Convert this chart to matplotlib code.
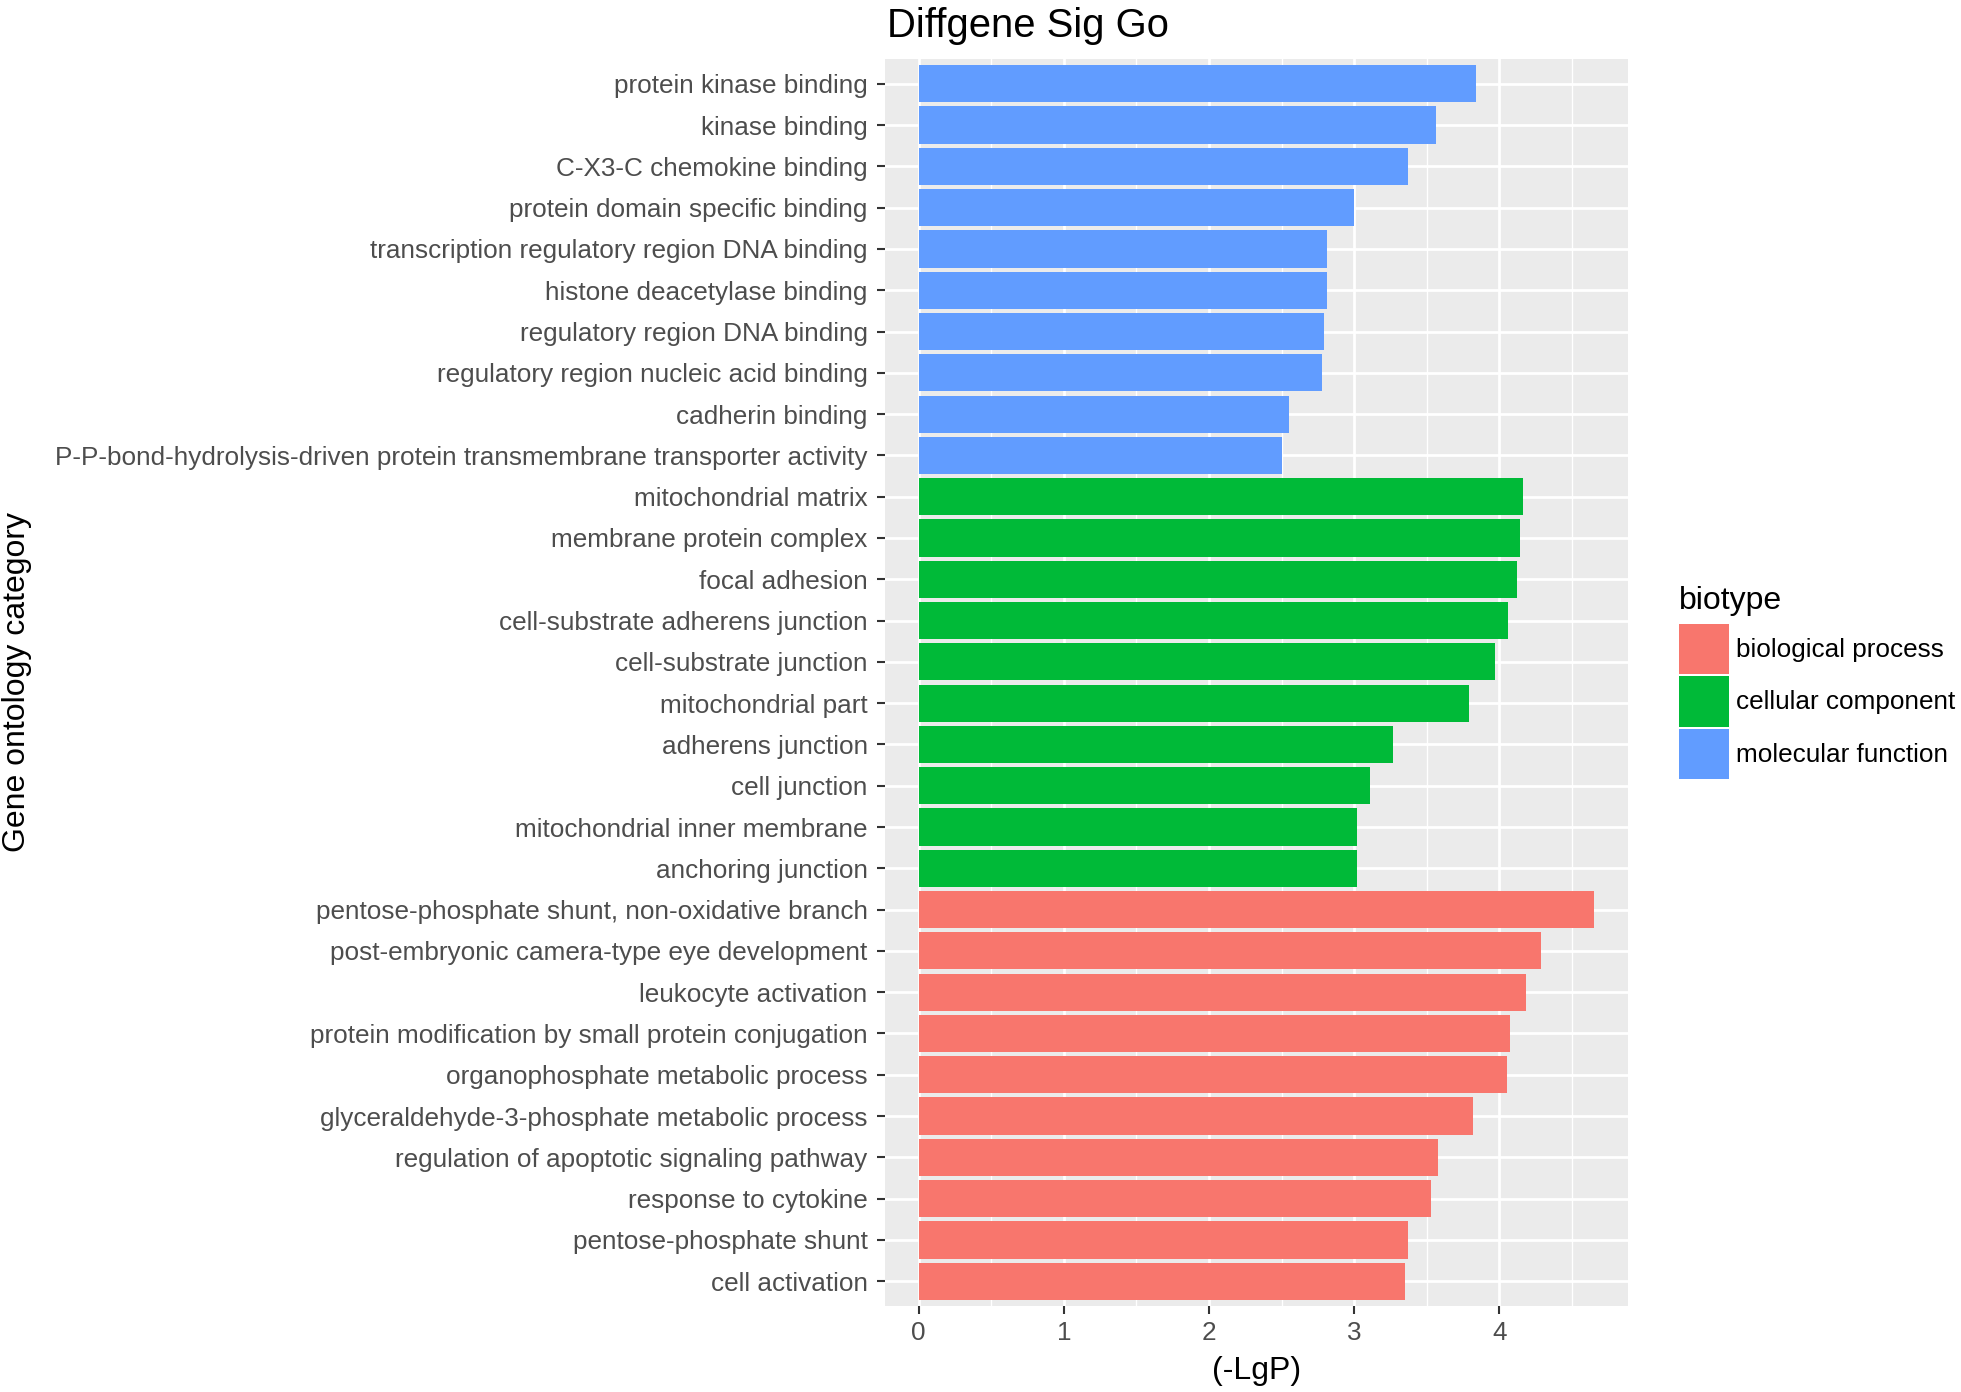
import matplotlib
matplotlib.use("Agg")
import matplotlib.pyplot as plt
from matplotlib.patches import Patch
from matplotlib.ticker import MultipleLocator

plt.rcParams['font.family'] = ['Liberation Sans', 'DejaVu Sans']

# ---- data (top to bottom as displayed) ----
mf_terms = ["protein kinase binding", "kinase binding", "C-X3-C chemokine binding",
            "protein domain specific binding", "transcription regulatory region DNA binding",
            "histone deacetylase binding", "regulatory region DNA binding",
            "regulatory region nucleic acid binding", "cadherin binding",
            "P-P-bond-hydrolysis-driven protein transmembrane transporter activity"]
mf_values = [3.84, 3.56, 3.37, 3.00, 2.81, 2.81, 2.79, 2.78, 2.55, 2.50]

cc_terms = ["mitochondrial matrix", "membrane protein complex", "focal adhesion",
            "cell-substrate adherens junction", "cell-substrate junction",
            "mitochondrial part", "adherens junction", "cell junction",
            "mitochondrial inner membrane", "anchoring junction"]
cc_values = [4.16, 4.14, 4.12, 4.06, 3.97, 3.79, 3.27, 3.11, 3.02, 3.02]

bp_terms = ["pentose-phosphate shunt, non-oxidative branch",
            "post-embryonic camera-type eye development", "leukocyte activation",
            "protein modification by small protein conjugation",
            "organophosphate metabolic process",
            "glyceraldehyde-3-phosphate metabolic process",
            "regulation of apoptotic signaling pathway", "response to cytokine",
            "pentose-phosphate shunt", "cell activation"]
bp_values = [4.65, 4.29, 4.18, 4.07, 4.05, 3.82, 3.58, 3.53, 3.37, 3.35]

biotypes = ["biological process", "cellular component", "molecular function"]
colors = {"biological process": "#F8766D",
          "cellular component": "#00BA38",
          "molecular function": "#619CFF"}

terms = mf_terms + cc_terms + bp_terms
values = mf_values + cc_values + bp_values
types = (["molecular function"] * len(mf_terms) + ["cellular component"] * len(cc_terms)
         + ["biological process"] * len(bp_terms))

W, H = 1961, 1392
fig = plt.figure(figsize=(W / 100, H / 100), dpi=100)
fig.patch.set_facecolor("white")

left, right, top, bottom = 885, 1627.5, 59, 1306
ax = fig.add_axes([left / W, 1 - bottom / H, (right - left) / W, (bottom - top) / H])
ax.set_facecolor("#EBEBEB")
for s in ax.spines.values():
    s.set_visible(False)

n = len(terms)
ypos = [n - i for i in range(n)]
ax.barh(ypos, values, height=0.9, color=[colors[t] for t in types], zorder=3, linewidth=0)

vmax = max(values)
ax.set_xlim(-0.05 * vmax, vmax * 1.05)
ax.set_ylim(0.4, n + 0.6)
ax.set_yticks(ypos)
ax.set_yticklabels(terms)
ax.xaxis.set_major_locator(MultipleLocator(1))
ax.xaxis.set_minor_locator(MultipleLocator(0.5))
ax.set_axisbelow(True)
ax.grid(which="major", color="white", linewidth=2.0, zorder=0)
ax.grid(which="minor", axis="x", color="white", linewidth=1.0, zorder=0)
ax.tick_params(axis="both", which="major", labelsize=18.8, labelcolor="#4D4D4D",
               color="#333333", length=5.5, width=1.5, pad=5)
ax.tick_params(axis="y", pad=7)
ax.tick_params(which="minor", length=0)

ax.set_xlabel("(-LgP)", fontsize=23, color="black")
ax.xaxis.set_label_coords(0.5, (bottom - 1371) / (bottom - top))
ax.xaxis.label.set_va("center")
ax.set_ylabel("Gene ontology category", fontsize=23, color="black")
ax.yaxis.set_label_coords((17 - left) / (right - left), 0.5)
ax.yaxis.label.set_va("center")

fig.text(887 / W, 1 - 37 / H, "Diffgene Sig Go", fontsize=28.8, ha="left",
         va="baseline", color="black")

handles = [Patch(facecolor=colors[b], edgecolor="none", label=b) for b in biotypes]
leg = fig.legend(handles=handles, title="biotype", loc="upper left",
                 bbox_to_anchor=(1679 / W, 1 - 586 / H),
                 frameon=False, fontsize=18.8, title_fontsize=23, handlelength=1.9,
                 handleheight=2.6, labelspacing=0.08, handletextpad=0.3,
                 borderpad=0, borderaxespad=0, alignment="left")
# a little more room between the legend title and the keys
leg._legend_box.sep = 5.5

fig.savefig("out.png", dpi=100)
